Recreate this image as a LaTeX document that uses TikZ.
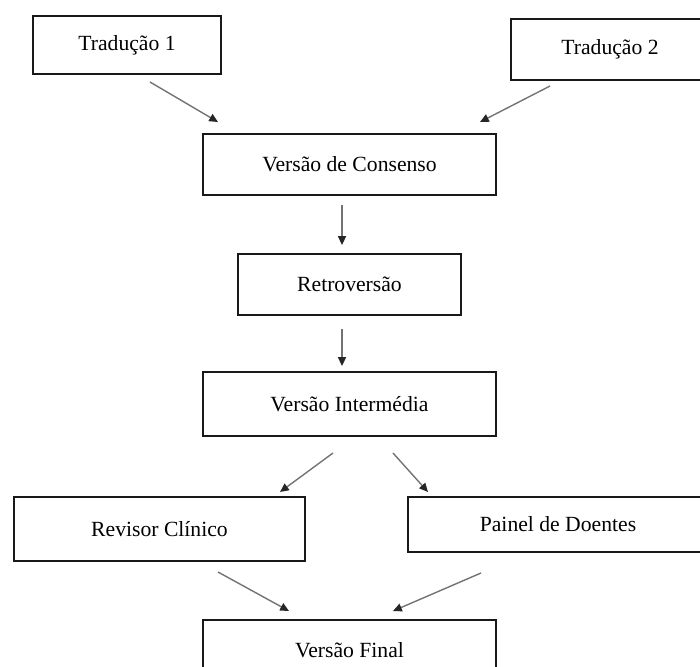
\documentclass[tikz,border=0pt]{standalone}
\usepackage{fontspec}
\setmainfont{Liberation Serif}
\usepackage{tikz}
\usetikzlibrary{arrows.meta, positioning}

\begin{document}
\begin{tikzpicture}[
        stage_box/.style={
            draw=black!90, rectangle, line width=0.05cm, minimum width=7.325cm, minimum height=1.525cm,
            align=center, font=\fontsize{15.4}{18}\selectfont, fill=white
        },
        flow_arrow/.style={
            draw=black!55, line width=0.035cm, -{Triangle[length=0.22cm, width=0.2cm, black!85]}
        }
    ]

    \useasboundingbox (0,0) rectangle (17.5,-16.65);

    % Translations (top row)
    \node[stage_box, minimum width=4.7cm, minimum height=1.45cm] (T1) at (3.175,-1.125) {Tradução 1};
    \node[stage_box, minimum width=4.95cm] (T2) at (15.25,-1.2375) {Tradução 2};

    % Main column (top to bottom)
    \node[stage_box] (C) at (8.7375,-4.1125) {Versão de Consenso};
    \node[stage_box, minimum width=5.575cm, below=1.425cm of C] (R) {Retroversão};
    \node[stage_box, minimum height=1.6cm, below=1.375cm of R] (I) {Versão Intermédia};

    % Review
    \node[stage_box, minimum width=7.275cm, minimum height=1.6cm] (RC) at (3.9875,-13.225) {Revisor Clínico};
    \node[stage_box, minimum width=7.5cm, minimum height=1.375cm] (P) at (13.95,-13.1125) {Painel de Doentes};

    \node[stage_box, below=4.55cm of I] (F) {Versão Final};

    % Connections
    \draw[flow_arrow] ([shift={(0.575,-0.175)}]T1.south) -- ([shift={(-3.2875,0.275)}]C.north);
    \draw[flow_arrow] ([shift={(-1.5,-0.125)}]T2.south) -- ([shift={(3.2625,0.275)}]C.north);
    \draw[flow_arrow] ([shift={(-0.1875,-0.225)}]C.south) -- ([shift={(-0.1875,0.2)}]R.north);
    \draw[flow_arrow] ([shift={(-0.1875,-0.325)}]R.south) -- ([shift={(-0.1875,0.125)}]I.north);
    \draw[flow_arrow] ([shift={(-0.4125,-0.4)}]I.south) -- ([shift={(3.0125,0.1)}]RC.north);
    \draw[flow_arrow] ([shift={(1.0875,-0.4)}]I.south) -- ([shift={(-3.25,0.1)}]P.north);
    \draw[flow_arrow] ([shift={(1.4625,-0.25)}]RC.south) -- ([shift={(-1.5125,0.2)}]F.north);
    \draw[flow_arrow] ([shift={(-1.925,-0.5)}]P.south) -- ([shift={(1.0875,0.2)}]F.north);

\end{tikzpicture}
\end{document}
